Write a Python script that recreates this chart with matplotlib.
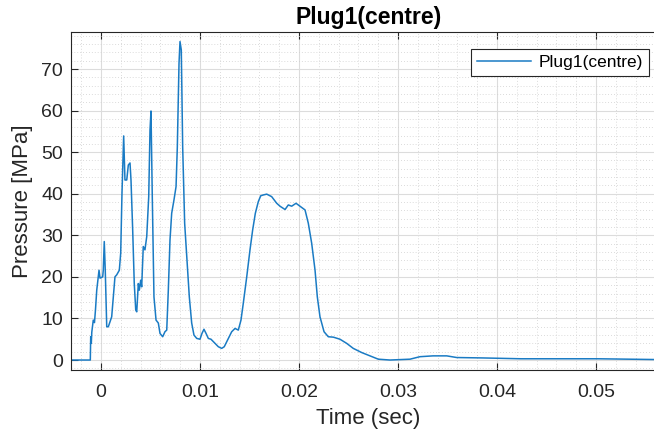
import matplotlib
matplotlib.use("Agg")
import matplotlib.pyplot as plt
from matplotlib.ticker import MultipleLocator

plt.rcParams['font.family'] = ['Liberation Sans', 'DejaVu Sans']

# Sensor trace: time [s] and pressure [MPa]
time_s = [
    -0.00300, -0.00111, -0.00108, -0.00104, -0.00098, -0.00093, -0.00078, -0.00066,
    -0.00056, -0.00043, -0.00020, -0.00010, 0.00017, 0.00023, 0.00033, 0.00043,
    0.00058, 0.00074, 0.00108, 0.00141, 0.00159, 0.00185, 0.00199, 0.00212,
    0.00229, 0.00242, 0.00260, 0.00276, 0.00293, 0.00303, 0.00320, 0.00336,
    0.00351, 0.00361, 0.00377, 0.00387, 0.00401, 0.00411, 0.00427, 0.00444,
    0.00462, 0.00482, 0.00495, 0.00505, 0.00518, 0.00535, 0.00556, 0.00579,
    0.00596, 0.00623, 0.00646, 0.00664, 0.00680, 0.00697, 0.00714, 0.00737,
    0.00758, 0.00771, 0.00788, 0.00798, 0.00811, 0.00825, 0.00845, 0.00866,
    0.00892, 0.00916, 0.00939, 0.00967, 0.01000, 0.01020, 0.01040, 0.01061,
    0.01084, 0.01111, 0.01152, 0.01185, 0.01219, 0.01245, 0.01286, 0.01320,
    0.01354, 0.01387, 0.01414, 0.01437, 0.01472, 0.01505, 0.01532, 0.01559,
    0.01589, 0.01613, 0.01639, 0.01674, 0.01724, 0.01775, 0.01808, 0.01859,
    0.01892, 0.01926, 0.01970, 0.02010, 0.02061, 0.02094, 0.02128, 0.02162,
    0.02185, 0.02212, 0.02253, 0.02296, 0.02347, 0.02414, 0.02482, 0.02548,
    0.02633, 0.02717, 0.02801, 0.02919, 0.03121, 0.03222, 0.03354, 0.03492,
    0.03593, 0.03859, 0.04242, 0.04636, 0.05020, 0.05343, 0.05646, 0.05700,
]
pressure_mpa = [
    0.0, 0.0, 0.0, 5.6, 4.0, 6.7, 9.6, 9.0,
    12.0, 16.8, 21.6, 19.7, 20.0, 21.6, 28.5, 21.6,
    8.0, 8.0, 10.4, 20.0, 20.5, 21.6, 25.7, 40.1,
    53.9, 43.3, 43.3, 46.9, 47.4, 43.3, 31.3, 18.4,
    12.0, 11.6, 18.4, 16.8, 19.2, 17.6, 27.3, 26.5,
    29.7, 39.3, 55.3, 59.9, 39.3, 15.2, 9.6, 8.9,
    6.4, 5.6, 6.8, 7.2, 16.8, 28.9, 35.3, 38.5,
    41.7, 51.3, 71.4, 76.6, 74.6, 51.3, 32.9, 24.9,
    15.2, 8.9, 6.0, 5.2, 5.0, 6.4, 7.4, 6.4,
    5.2, 5.0, 4.0, 3.2, 2.8, 3.2, 5.2, 6.8,
    7.6, 7.2, 9.6, 13.6, 20.0, 26.5, 31.3, 35.3,
    38.1, 39.5, 39.7, 39.9, 39.3, 37.7, 37.0, 36.2,
    37.3, 37.0, 37.7, 37.0, 36.1, 32.9, 28.1, 21.6,
    15.2, 10.4, 6.8, 5.6, 5.5, 5.0, 4.0, 2.8,
    1.8, 1.0, 0.2, 0.0, 0.2, 0.8, 1.0, 1.0,
    0.6, 0.5, 0.3, 0.3, 0.3, 0.2, 0.1, 0.1,
]

series_label = "Plug1(centre)"
title_text = "Plug1(centre)"
x_label = "Time (sec)"
y_label = "Pressure [MPa]"

line_color = "#1a7bc4"
text_color = "#262626"

fig = plt.figure(figsize=(6.54, 4.34), dpi=100)
ax = fig.add_axes([71.3 / 654, 64 / 434, 594 / 654, 338 / 434])

ax.plot(time_s, pressure_mpa, color=line_color, linewidth=1.1, label=series_label)

ax.set_xlim(-0.003, 0.057)
ax.set_ylim(-2.4, 78.9)

ax.xaxis.set_minor_locator(MultipleLocator(0.002))
ax.yaxis.set_major_locator(MultipleLocator(10))
ax.yaxis.set_minor_locator(MultipleLocator(2))
ax.set_xticks([0, 0.01, 0.02, 0.03, 0.04, 0.05])
ax.set_xticklabels(["0", "0.01", "0.02", "0.03", "0.04", "0.05"])

ax.grid(which="major", color="#dcdcdc", linewidth=0.8, linestyle="-")
ax.grid(which="minor", color="#cfcfcf", linewidth=0.6, linestyle=(0, (1, 2.5)))
ax.set_axisbelow(True)

ax.tick_params(which="both", direction="in", top=True, right=True,
               colors=text_color, labelsize=14)
ax.tick_params(which="major", length=5, width=0.8)
ax.tick_params(which="minor", length=0)
ax.tick_params(axis="x", pad=10)
ax.tick_params(axis="y", pad=6)
for s in ax.spines.values():
    s.set_color(text_color)
    s.set_linewidth(0.8)

ax.set_xlabel(x_label, fontsize=16, color=text_color, labelpad=5)
ax.set_ylabel(y_label, fontsize=16, color=text_color, labelpad=6)
ax.set_title(title_text, fontsize=16.5, fontweight="bold", color="black", pad=6)

leg = ax.legend(loc="upper right", bbox_to_anchor=(649 / 654, 1 - 49 / 434),
                bbox_transform=fig.transFigure, borderaxespad=0,
                fontsize=12.5, handlelength=3.1, fancybox=False, shadow=False,
                framealpha=1, edgecolor=text_color, borderpad=0.35, handletextpad=0.45)
leg.get_frame().set_linewidth(0.8)

fig.savefig("out.png", dpi=100)
